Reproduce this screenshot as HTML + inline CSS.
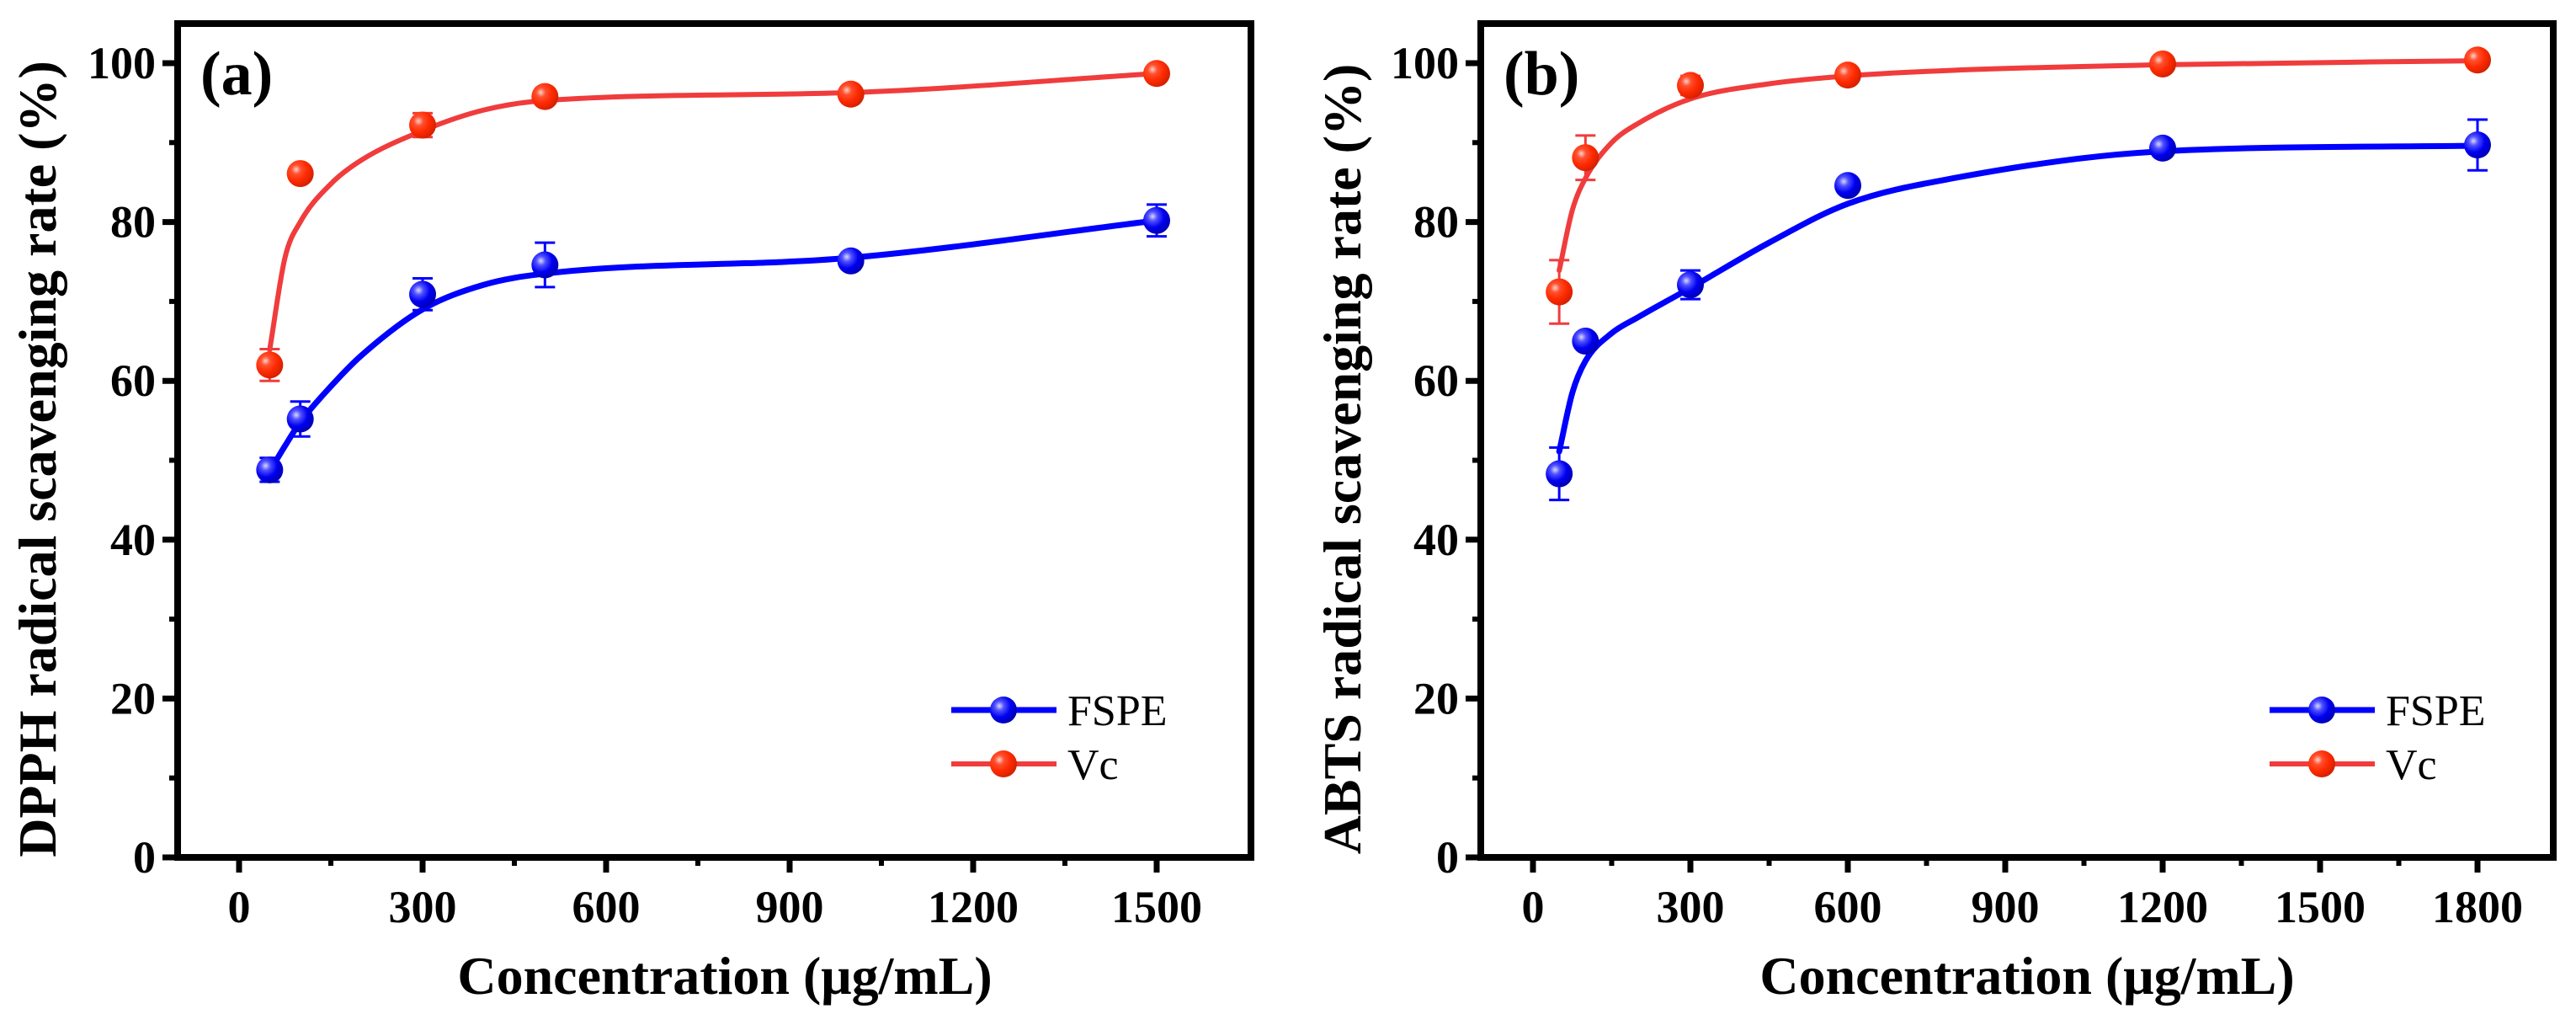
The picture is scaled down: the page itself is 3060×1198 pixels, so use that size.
<!DOCTYPE html>
<html><head><meta charset="utf-8">
<style>
html,body{margin:0;padding:0;background:#fff;}
svg{display:block;}
text{font-family:"Liberation Serif","DejaVu Serif",serif;fill:#000;}
</style></head>
<body>
<svg id="fig" xmlns="http://www.w3.org/2000/svg" width="3060" height="1198" viewBox="0 0 3060 1198">
<defs>
<radialGradient id="gBlue" cx="0.35" cy="0.35" r="0.7">
<stop offset="0" stop-color="#d8d8ff"/><stop offset="0.25" stop-color="#5050ff"/><stop offset="0.6" stop-color="#0000f0"/><stop offset="1" stop-color="#0000b0"/>
</radialGradient>
<radialGradient id="gRed" cx="0.35" cy="0.35" r="0.7">
<stop offset="0" stop-color="#ffd0c8"/><stop offset="0.25" stop-color="#ff5030"/><stop offset="0.6" stop-color="#ff2a00"/><stop offset="1" stop-color="#d02000"/>
</radialGradient>
</defs>
</svg>
<script>
// ---- Panel (a) DPPH data ----
const aX = [50, 100, 300, 500, 1000, 1500];
const aFSPE = [48.8, 55.2, 70.9, 74.6, 75.1, 80.2];
const aFSPEerr = [1.5, 2.2, 2.0, 2.8, 1.0, 2.0];
const aVc = [62.0, 86.1, 92.2, 95.8, 96.1, 98.7];
const aVcErr = [2.0, 0.5, 1.5, 0.8, 0.8, 0.5];
const aFitX = [50, 75, 100, 150, 200, 300, 400, 500, 1000, 1500];
const aFitFSPE = [48.6, 51.8, 54.8, 59.3, 63.2, 69.0, 72.1, 73.5, 75.5, 80.2];
const aFitVc = [63.9, 75.5, 80.0, 84.8, 87.8, 91.5, 94.1, 95.3, 96.3, 98.7];
const aXTicks = [0, 300, 600, 900, 1200, 1500];
// ---- Panel (b) ABTS data ----
const bX = [50, 100, 300, 600, 1200, 1800];
const bFSPE = [48.3, 65.0, 72.1, 84.6, 89.3, 89.7];
const bFSPEerr = [3.3, 0.5, 1.8, 0.5, 0.8, 3.2];
const bVc = [71.2, 88.1, 97.2, 98.5, 99.9, 100.4];
const bVcErr = [4.0, 2.8, 1.2, 0.5, 0.5, 0.5];
const bFitX = [50, 75, 100, 150, 200, 300, 450, 600, 800, 1200, 1800];
const bFitFSPE = [51.1, 58.5, 62.5, 66.0, 68.0, 71.7, 77.4, 82.3, 85.5, 88.9, 89.6];
const bFitVc = [73.9, 81.5, 85.5, 90.0, 92.4, 95.5, 97.4, 98.4, 99.1, 99.8, 100.3];
const bXTicks = [0, 300, 600, 900, 1200, 1500, 1800];
const yTicks = [0, 20, 40, 60, 80, 100];

const NS = "http://www.w3.org/2000/svg";
const svg = document.getElementById('fig');
function mk(tag, attrs, parent) {
  const e = document.createElementNS(NS, tag);
  for (const k in attrs) e.setAttribute(k, attrs[k]);
  (parent || svg).appendChild(e);
  return e;
}
function monotone(xs, ys) {
  const n = xs.length, d = [], m = [];
  for (let i = 0; i < n - 1; i++) d.push((ys[i+1]-ys[i])/(xs[i+1]-xs[i]));
  m[0] = d[0]; m[n-1] = d[n-2];
  for (let i = 1; i < n - 1; i++) m[i] = (d[i-1]*d[i] <= 0) ? 0 : (d[i-1]+d[i])/2;
  for (let i = 0; i < n - 1; i++) {
    if (d[i] === 0) { m[i] = 0; m[i+1] = 0; continue; }
    const a = m[i]/d[i], b = m[i+1]/d[i], s = a*a + b*b;
    if (s > 9) { const t = 3/Math.sqrt(s); m[i] = t*a*d[i]; m[i+1] = t*b*d[i]; }
  }
  return m;
}
function curvePath(xs, ys, sx, sy) {
  const m = monotone(xs, ys);
  let p = 'M' + sx(xs[0]) + ',' + sy(ys[0]);
  for (let i = 0; i < xs.length - 1; i++) {
    const h = xs[i+1] - xs[i];
    p += ' C' + sx(xs[i]+h/3) + ',' + sy(ys[i]+m[i]*h/3) + ' ' + sx(xs[i+1]-h/3) + ',' + sy(ys[i+1]-m[i+1]*h/3) + ' ' + sx(xs[i+1]) + ',' + sy(ys[i+1]);
  }
  return p;
}

function panel(cfg) {
  const g = mk('g', {});
  
  
  const sx = v => cfg.x0 + v * cfg.pxPer;
  const sy = v => 1018 - v * 9.43;
  const L = cfg.left, R = cfg.right, T = 28, B = 1018;
  const fr = mk('rect', {x: L, y: T, width: R - L, height: B - T, fill: 'none', stroke: '#000', 'stroke-width': 8}, g);
  
  
  yTicks.forEach(v => {
    mk('line', {x1: L - 18, x2: L, y1: sy(v), y2: sy(v), stroke: '#000', 'stroke-width': 7}, g);
    const t = mk('text', {x: L - 26, y: sy(v) + 18, 'font-size': 54, 'font-weight': 'bold', 'text-anchor': 'end'}, g);
    t.textContent = v;
    
    
  });
  for (let v = 10; v < 100; v += 20) mk('line', {x1: L - 10, x2: L, y1: sy(v), y2: sy(v), stroke: '#000', 'stroke-width': 6}, g);
  cfg.xTicks.forEach(v => {
    mk('line', {x1: sx(v), x2: sx(v), y1: B, y2: B + 18, stroke: '#000', 'stroke-width': 7}, g);
    const t = mk('text', {x: sx(v), y: B + 77, 'font-size': 54, 'font-weight': 'bold', 'text-anchor': 'middle'}, g);
    t.textContent = v;
    
    
  });
  for (let i = 0; i < cfg.xTicks.length; i++) {
    const v = cfg.xTicks[i] + 150;
    if (sx(v) < R - 5) mk('line', {x1: sx(v), x2: sx(v), y1: B, y2: B + 10, stroke: '#000', 'stroke-width': 6}, g);
  }
  const xt = mk('text', {x: cfg.xTitleX, y: 1180, 'font-size': 64, 'font-weight': 'bold', 'text-anchor': 'middle'}, g);
  xt.textContent = 'Concentration (\u03bcg/mL)';
  
  
  const yt = mk('text', {x: 0, y: 0, 'font-size': 64, 'font-weight': 'bold', 'text-anchor': 'middle', transform: 'translate(' + cfg.yTitleX + ',545) rotate(-90)'}, g);
  yt.textContent = cfg.yTitle;
  
  
  const pl = mk('text', {x: L + 27, y: 112, 'font-size': 74, 'font-weight': 'bold'}, g);
  pl.textContent = cfg.label;
  
  
  const series = [
    {name: 'fspe', fitY: cfg.fitFSPE, ys: cfg.fspe, err: cfg.fspeErr, color: '#0000ff', grad: 'url(#gBlue)', w: 7},
    {name: 'vc', fitY: cfg.fitVc, ys: cfg.vc, err: cfg.vcErr, color: '#f03c3c', grad: 'url(#gRed)', w: 6}
  ];
  series.forEach(s => {
    const c = mk('path', {d: curvePath(cfg.fitX, s.fitY, sx, sy), fill: 'none', stroke: s.color, 'stroke-width': s.w, 'stroke-linecap': 'round'}, g);
    
    
    cfg.xs.forEach((xv, i) => {
      const cx = sx(xv), cy = sy(s.ys[i]), e = s.err[i] * 9.43;
      mk('line', {x1: cx, x2: cx, y1: cy - e, y2: cy + e, stroke: s.color, 'stroke-width': 3}, g);
      mk('line', {x1: cx - 12, x2: cx + 12, y1: cy - e, y2: cy - e, stroke: s.color, 'stroke-width': 3}, g);
      mk('line', {x1: cx - 12, x2: cx + 12, y1: cy + e, y2: cy + e, stroke: s.color, 'stroke-width': 3}, g);
      const pt = mk('circle', {cx: cx, cy: cy, r: 16, fill: s.grad}, g);
      
      
    });
  });
  const lg = mk('g', {}, g);
  
  
  [['FSPE', '#0000ff', 'url(#gBlue)', 843, 7], ['Vc', '#f03c3c', 'url(#gRed)', 907, 6]].forEach(it => {
    const e = mk('g', {}, lg);
    
    
    mk('line', {x1: cfg.legX, x2: cfg.legX + 125, y1: it[3], y2: it[3], stroke: it[1], 'stroke-width': it[4]}, e);
    mk('circle', {cx: cfg.legX + 62, cy: it[3], r: 16, fill: it[2]}, e);
    const t = mk('text', {x: cfg.legX + 138, y: it[3] + 18, 'font-size': 52}, e);
    t.textContent = it[0];
  });
}

panel({name: 'dpph-chart', label: '(a)', left: 211, right: 1486, x0: 284, pxPer: 218/300,
  xTicks: aXTicks, xs: aX, fspe: aFSPE, fspeErr: aFSPEerr, vc: aVc, vcErr: aVcErr,
  fitX: aFitX, fitFSPE: aFitFSPE, fitVc: aFitVc,
  yTitle: 'DPPH radical scavenging rate (%)', yTitleX: 66, xTitleX: 861, legX: 1130});
panel({name: 'abts-chart', label: '(b)', left: 1759, right: 3033, x0: 1821, pxPer: 187/300,
  xTicks: bXTicks, xs: bX, fspe: bFSPE, fspeErr: bFSPEerr, vc: bVc, vcErr: bVcErr,
  fitX: bFitX, fitFSPE: bFitFSPE, fitVc: bFitVc,
  yTitle: 'ABTS radical scavenging rate (%)', yTitleX: 1616, xTitleX: 2408, legX: 2696});
</script>
</body></html>
